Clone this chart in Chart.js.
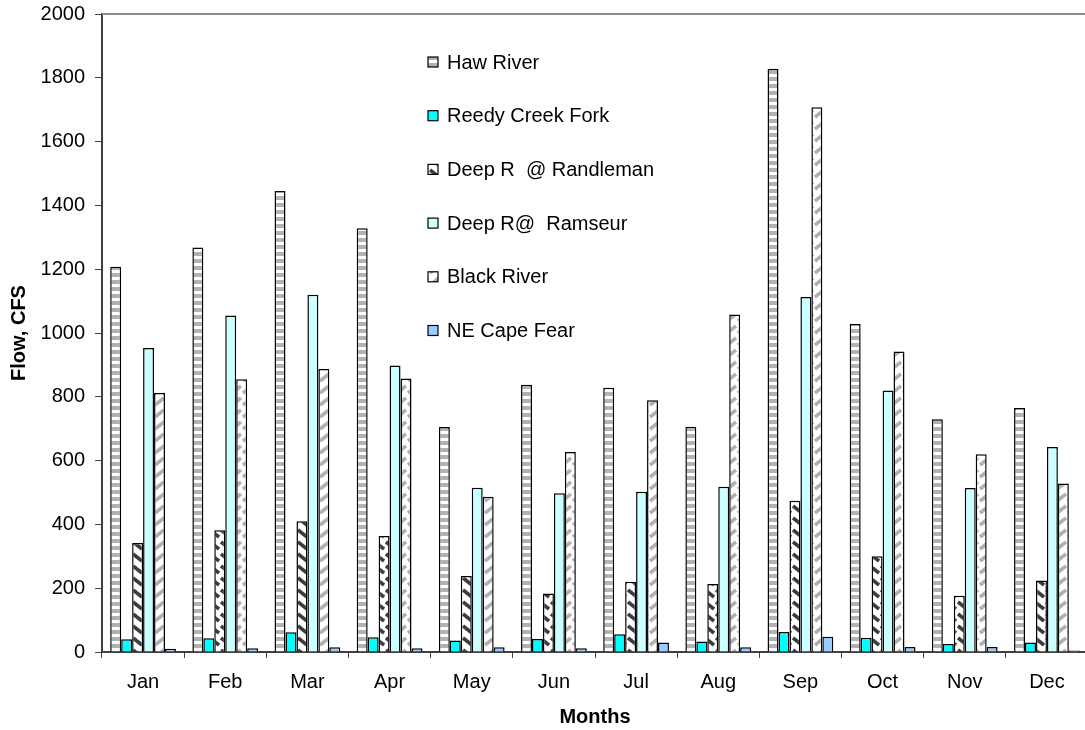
<!DOCTYPE html>
<html>
<head>
<meta charset="utf-8">
<script src="https://cdn.jsdelivr.net/npm/chart.js@4/dist/chart.umd.min.js"></script>
<style>
  html, body { margin: 0; padding: 0; background: #fff; overflow: hidden; }
</style>
</head>
<body>
<canvas id="flowChart" width="1090" height="730"></canvas>
<script>
// --- Datos ---
const months = ['Jan', 'Feb', 'Mar', 'Apr', 'May', 'Jun', 'Jul', 'Aug', 'Sep', 'Oct', 'Nov', 'Dec'];
const hawRiver   = [1208, 1268, 1445, 1328, 705, 838, 828, 706, 1828, 1028, 730, 765];
const reedyCreek = [40, 43, 62, 46, 36, 41, 56, 33, 63, 45, 25, 30];
const deepRandle = [342, 382, 410, 364, 238, 183, 220, 213, 474, 300, 176, 224];
const deepRamseur = [953, 1055, 1120, 898, 515, 498, 502, 518, 1113, 820, 514, 643];
const blackRiver = [812, 855, 887, 857, 487, 627, 789, 1058, 1708, 942, 620, 528];
const neCapeFear = [10, 12, 15, 12, 15, 12, 30, 15, 48, 16, 16, 5];
const yTicks = [0, 200, 400, 600, 800, 1000, 1200, 1400, 1600, 1800, 2000];

const FONT = "'Liberation Sans', Arial, sans-serif";

// --- Patrones de relleno ---
function makePattern(kind) {
    const c = document.createElement('canvas');
    const w = kind === 'hstripe' ? 7 : 11;
    const h = kind === 'hstripe' ? 7 : 12;
    c.width = w; c.height = h;
    const g = c.getContext('2d');
    g.fillStyle = '#ffffff';
    g.fillRect(0, 0, w, h);
    if (kind === 'hstripe') {
        g.fillStyle = '#b2b2b2';
        g.fillRect(0, 0, w, 4);
    } else if (kind === 'darkDiag') {
        g.strokeStyle = '#3c3c3c';
        g.lineWidth = 3.5;
        g.beginPath(); g.moveTo(1, 2); g.lineTo(10, 9); g.stroke();
    } else if (kind === 'lightDiag') {
        g.strokeStyle = '#b0b0b0';
        g.lineWidth = 3.5;
        g.beginPath(); g.moveTo(1, 9); g.lineTo(10, 2); g.stroke();
    }
    return g.createPattern(c, 'repeat');
}

const series = [
    { label: 'Haw River', data: hawRiver, fill: makePattern('hstripe') },
    { label: 'Reedy Creek Fork', data: reedyCreek, fill: '#00ffff' },
    { label: 'Deep R  @ Randleman', data: deepRandle, fill: makePattern('darkDiag') },
    { label: 'Deep R@  Ramseur', data: deepRamseur, fill: '#ccffff' },
    { label: 'Black River', data: blackRiver, fill: makePattern('lightDiag') },
    { label: 'NE Cape Fear', data: neCapeFear, fill: '#99ccff' }
];

// Leyenda dentro del área del gráfico + borde superior
const insideLegend = {
    id: 'insideLegend',
    afterDraw(chart) {
        const ctx = chart.ctx;
        const area = chart.chartArea;
        ctx.save();
        // línea superior del área
        ctx.strokeStyle = '#8a8a8a';
        ctx.lineWidth = 2;
        ctx.beginPath();
        ctx.moveTo(area.left, area.top);
        ctx.lineTo(area.right, area.top);
        ctx.stroke();

        ctx.font = '20px ' + FONT;
        ctx.textBaseline = 'middle';
        chart.data.datasets.forEach((ds, i) => {
            const y = 62 + i * 53.7;
            const x = 428;
            ctx.fillStyle = ds.backgroundColor;
            ctx.fillRect(x, y - 5, 10, 10);
            ctx.strokeStyle = '#000';
            ctx.lineWidth = 1.2;
            ctx.strokeRect(x, y - 5, 10, 10);
            ctx.fillStyle = '#000';
            ctx.fillText(ds.label, x + 19, y + 1);
        });
        ctx.restore();
    }
};

const ctx = document.getElementById('flowChart').getContext('2d');
new Chart(ctx, {
    type: 'bar',
    data: {
        labels: months,
        datasets: series.map(s => ({
            label: s.label,
            data: s.data,
            backgroundColor: s.fill,
            borderColor: '#000000',
            borderWidth: 1.5,
            categoryPercentage: 0.8,
            barPercentage: 1.0
        }))
    },
    options: {
        responsive: false,
        animation: false,
        devicePixelRatio: 1,
        layout: { padding: { top: 14, right: 2, left: 0, bottom: 0 } },
        plugins: {
            legend: { display: false },
            tooltip: { enabled: false }
        },
        scales: {
            x: {
                afterFit: (s) => { s.height = 78; },
                grid: { drawOnChartArea: false, drawTicks: true, tickLength: 6, color: '#404040', offset: true },
                border: { color: '#404040', width: 2 },
                ticks: { color: '#000', padding: 12, font: { family: FONT, size: 20 } },
                title: { display: true, text: 'Months', color: '#000', padding: { top: 0, bottom: 1 }, font: { family: FONT, size: 20, weight: 'bold' } }
            },
            y: {
                min: 0,
                max: 2000,
                afterFit: (s) => { s.width = 102; s.paddingTop = 0; s.paddingBottom = 0; },
                afterBuildTicks: (s) => { s.ticks = yTicks.map(v => ({ value: v })); },
                grid: { drawOnChartArea: false, drawTicks: true, tickLength: 7, color: '#404040' },
                border: { color: '#404040', width: 2 },
                ticks: {
                    color: '#000', padding: 10, font: { family: FONT, size: 20 },
                    callback: (v) => String(v)
                },
                title: { display: true, text: 'Flow, CFS', color: '#000', padding: { top: 7, bottom: 0 }, font: { family: FONT, size: 20, weight: 'bold' } }
            }
        }
    },
    plugins: [insideLegend]
});
</script>
</body>
</html>
